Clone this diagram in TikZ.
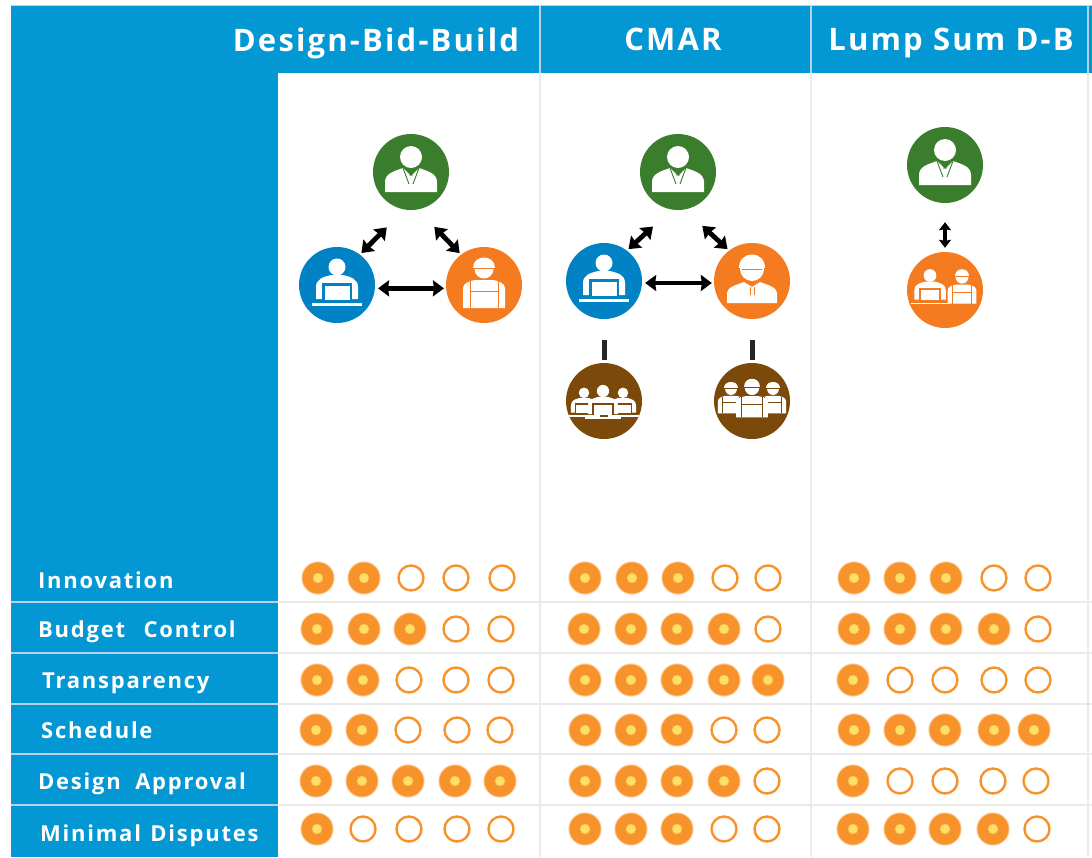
\documentclass[tikz,border=0pt]{standalone}
\usepackage{fontspec}
\usetikzlibrary{arrows.meta,calc}
\setmainfont{Open Sans}
\newfontfamily\headf[LetterSpace=7]{Open Sans}
\newfontfamily\labf[LetterSpace=8]{Open Sans}
\definecolor{hblue}{HTML}{0398D3}
\definecolor{cblue}{HTML}{0082C4}
\definecolor{cgreen}{HTML}{3A7D2C}
\definecolor{corange}{HTML}{F47B20}
\definecolor{cbrown}{HTML}{7B4A0B}
\definecolor{sun}{HTML}{F8922A}
\definecolor{suncore}{HTML}{FDE068}
\definecolor{gridw}{HTML}{EAEAEA}
\definecolor{gridb}{HTML}{B5D3E5}
\newcommand\Fd[2]{%
  \fill[sun!25] (#1,#2) circle[radius=16.8];
  \fill[sun!60] (#1,#2) circle[radius=16.2];
  \fill[sun] (#1,#2) circle[radius=15.4];
  \fill[suncore!60!sun] (#1,#2) circle[radius=5.3];
  \fill[suncore] (#1,#2) circle[radius=4.4];}
\newcommand\Od[2]{\draw[sun,line width=2.4pt] (#1,#2) circle[radius=12.5];}
\newcommand\dotrow[2]{\foreach \xx/\ss in {#2}{\csname \ss d\endcsname{\xx}{#1}}}
\tikzset{
  disc/.style={circle,minimum size=76pt,inner sep=0pt,draw=none},
  head/.style={font=\headf\bfseries\fontsize{31}{33}\selectfont,text=white,inner sep=0pt,anchor=base},
  rowlab/.style={font=\labf\bfseries\fontsize{22}{24}\selectfont,text=white,inner sep=0pt,anchor=base west},
  dbl/.style={draw=black,line width=4.8pt,{Stealth[length=11pt,width=16pt,inset=1pt]}-{Stealth[length=11pt,width=16pt,inset=1pt]}},
  bar/.style={draw=black!85,line width=5pt},
  pics/suit/.style={code={
    \fill[white] (0,-15) circle[radius=11];
    \fill[white] (-26,20) -- (-26,10) .. controls (-26,1) and (-16,-1) .. (-8,-4) -- (0,4) -- (8,-4) .. controls (16,-1) and (26,1) .. (26,10) -- (26,20) -- cycle;
    \draw[#1,line width=.9pt] (-8,-4) -- (-2,12) (8,-4) -- (2,12) (-2,3)--(2,3);
  }},
  pics/lap/.style={code={
    \fill[white] (0,-18) circle[radius=8.5];
    \fill[white] (-21,14) -- (-21,2) .. controls (-21,-6) and (-14,-8) .. (-6,-10) -- (6,-10) .. controls (14,-8) and (21,-6) .. (21,2) -- (21,14) -- cycle;
    \fill[#1] (-15,15) rectangle (15,-2);
    \fill[white] (-12.5,15) rectangle (12.5,1);
    \fill[white] (-25,18) rectangle (25,20.5);
  }},
  pics/overall/.style={code={
    \fill[white] (0,-16) circle[radius=9.5];
    \fill[white] (-11,-17) .. controls (-11,-31) and (11,-31) .. (11,-17) -- cycle;
    \draw[#1,line width=.8pt] (-10,-17) -- (10,-17);
    \fill[white] (-21,23) -- (-21,3) .. controls (-21,-2) and (-14,-4) .. (-9,-5) -- (9,-5) .. controls (14,-4) and (21,-2) .. (21,3) -- (21,23) -- cycle;
    \draw[#1,line width=1pt] (-14,23) -- (-14,-4) (14,23) -- (14,-4) (-14,6) -- (14,6);
  }},
  pics/hatman/.style={code={
    \fill[white] (0,-12) circle[radius=12];
    \fill[white] (-13,-13) .. controls (-13,-31) and (13,-31) .. (13,-13) -- cycle;
    \draw[#1,line width=.8pt] (-10,-12) -- (10,-12);
    \fill[white] (-25,22) -- (-25,13) .. controls (-25,6) and (-16,4) .. (-8,1) -- (0,6) -- (8,1) .. controls (16,4) and (25,6) .. (25,13) -- (25,22) -- cycle;
    \draw[#1,line width=.8pt] (-2,6) -- (-2,14) (2,6) -- (2,14);
  }},
}
\begin{document}
\begin{tikzpicture}[x=1pt,y=-1pt]
\useasboundingbox (0,0) rectangle (1092,857);
\fill[white] (0,0) rectangle (1092,857);
% panels
\fill[hblue] (11,5) rectangle (1092,73);
\fill[hblue] (11,73) rectangle (278,857);
\draw[gridb,line width=1pt] (11,5) -- (1092,5);
% dividers
\foreach \dx in {540,811,1088}{
  \draw[gridb,line width=2pt] (\dx,5) -- (\dx,73);
  \draw[gridw,line width=2pt] (\dx,73) -- (\dx,857);
}
% row lines
\foreach \ry in {602,653,704,754,805}{
  \draw[gridb,line width=2.4pt] (11,\ry) -- (278,\ry);
  \draw[gridw,line width=2.4pt] (279,\ry) -- (1092,\ry);
}
% titles
\node[head] (t1) at (376,51) {Design-Bid-Build};
\node[head] (t2) at (673,50) {CMAR};
\node[head] (t3) at (951,50) {Lump Sum D-B};
% row labels
\node[rowlab] (r1) at (38,588) {Innovation};
\node[rowlab] (r2) at (38,637) {Budget\hspace{11pt} Control};
\node[rowlab] (r3) at (42,688) {Transparency};
\node[rowlab] (r4) at (41,738) {Schedule};
\node[rowlab] (r5) at (38,789) {Design\hspace{7pt} Approval};
\node[rowlab] (r6) at (40,841) {Minimal\hspace{2pt} Disputes};
% DBB
\node[disc,fill=cgreen] (aO) at (411,172) {};
\node[disc,fill=cblue] (aD) at (337,285) {};
\node[disc,fill=corange] (aC) at (484,285) {};
\pic at (aO) {suit=cgreen};
\pic at (aD) {lap=cblue};
\pic at (aC) {overall=corange};
\draw[dbl,shorten <=25pt,shorten >=2pt] (aO.260) -- (aD.53);
\draw[dbl,shorten <=24pt,shorten >=2pt] (aO.280) -- (aC.127);
\draw[dbl,shorten <=3pt,shorten >=2pt] (aD.355) -- (aC.185);
% CMAR
\node[disc,fill=cgreen] (bO) at (678,172) {};
\node[disc,fill=cblue] (bD) at (604,281) {};
\node[disc,fill=corange] (bC) at (752,281) {};
\node[disc,fill=cbrown] (bT) at (604,401) {};
\node[disc,fill=cbrown] (bW) at (752,401) {};
\pic at (bO) {suit=cgreen};
\pic at (bD) {lap=cblue};
\pic at (bC) {hatman=corange};
\pic[scale=.62] at ($(bT)+(-20,3)$) {lap=cbrown};
\pic[scale=.62] at ($(bT)+(19,3)$) {lap=cbrown};
\pic[scale=.72] at ($(bT)+(-1,3)$) {lap=cbrown};
\pic[scale=.62] at ($(bW)+(-21,-2)$) {overall=cbrown};
\pic[scale=.62] at ($(bW)+(21,-2)$) {overall=cbrown};
\pic[scale=.76] at ($(bW)+(0,-1)$) {overall=cbrown};
\draw[dbl,shorten <=25pt,shorten >=2pt] (bO.260) -- (bD.53);
\draw[dbl,shorten <=24pt,shorten >=2pt] (bO.280) -- (bC.127);
\draw[dbl,shorten <=3pt,shorten >=2pt] (bD.357) -- (bC.183);
\draw[bar,shorten <=21pt,shorten >=3pt] (bD.south) -- (bT.north);
\draw[bar,shorten <=21pt,shorten >=3pt] (bC.south) -- (bW.north);
% Lump
\node[disc,fill=cgreen] (cO) at (945,165) {};
\node[disc,fill=corange] (cD) at (945,290) {};
\pic at (cO) {suit=cgreen};
\pic[scale=.75] at ($(cD)+(-15,-1)$) {lap=corange};
\pic[scale=.68] at ($(cD)+(17,-2)$) {overall=corange};
\draw[draw=black,line width=3.2pt,{Stealth[length=8pt,width=12pt,inset=1pt]}-{Stealth[length=8pt,width=12pt,inset=1pt]},shorten <=19pt,shorten >=4pt] (cO.south) -- (cD.north);
% ratings
\dotrow{578}{318/F,364/F,411/O,456/O,502/O,585/F,632/F,678/F,725/O,768/O,854/F,900/F,946/F,994/O,1038/O}
\dotrow{629}{317/F,364/F,410/F,456/O,501/O,584/F,631/F,677/F,724/F,768/O,854/F,900/F,946/F,994/F,1038/O}
\dotrow{680}{317/F,363/F,409/O,456/O,501/O,585/F,631/F,677/F,724/F,768/F,853/F,900/O,945/O,994/O,1038/O}
\dotrow{730}{316/F,362/F,408/O,457/O,500/O,585/F,631/F,677/F,724/O,767/O,854/F,900/F,945/F,994/F,1034/F}
\dotrow{781}{316/F,362/F,408/F,455/F,500/F,585/F,631/F,677/F,724/F,767/O,853/F,900/O,945/O,993/O,1036/O}
\dotrow{829}{317/F,363/O,409/O,457/O,501/O,585/F,631/F,677/F,724/O,767/O,853/F,900/F,945/F,993/F,1037/O}
\end{tikzpicture}
\end{document}
